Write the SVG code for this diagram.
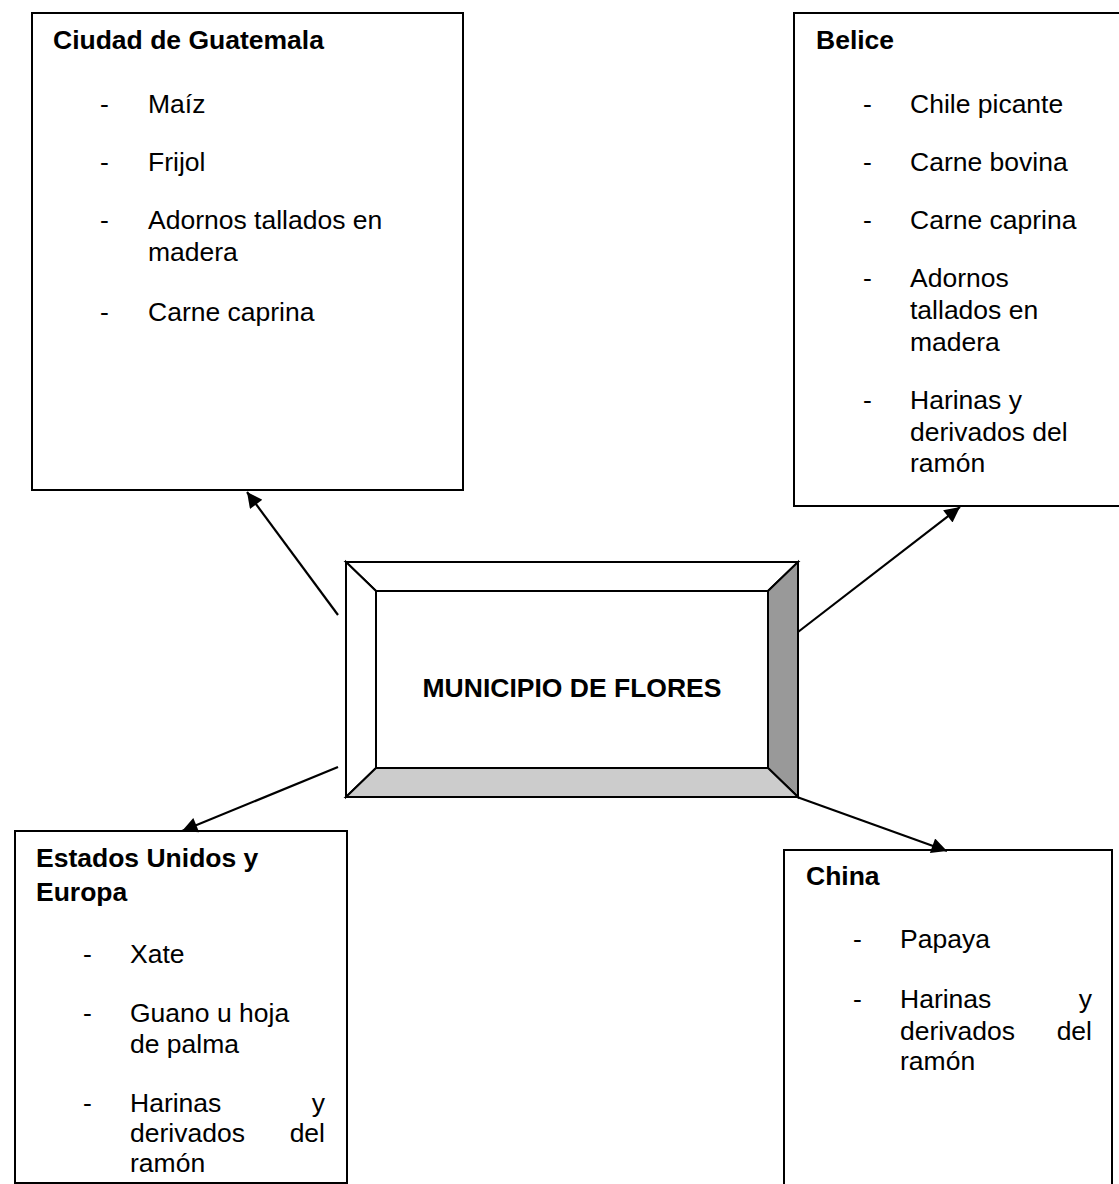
<svg xmlns="http://www.w3.org/2000/svg" width="1119" height="1184" viewBox="0 0 1119 1184">
<style>
.box{fill:#fff;stroke:#000;stroke-width:2}
.t{font-family:"Liberation Sans",Arial,sans-serif;font-size:26.5px;fill:#000}
.b{font-weight:bold}
.conn{stroke:#000;stroke-width:2.2;fill:none;marker-end:url(#ah)}
.bev{stroke:#000;stroke-width:2;stroke-linejoin:miter}
</style>
<defs>
<marker id="ah" viewBox="0 0 10 10" refX="10" refY="5" markerWidth="8" markerHeight="7" markerUnits="strokeWidth" orient="auto">
<path d="M0,0 L10,5 L0,10 z" fill="#000"/>
</marker>
</defs>
<rect width="1119" height="1184" fill="#fff"/>

<g id="guatemala">
<rect class="box" x="32" y="13" width="431" height="477"/>
<text class="t b" x="53" y="49">Ciudad de Guatemala</text>
<text class="t" x="100" y="113">-</text><text class="t" x="148" y="113">Maíz</text>
<text class="t" x="100" y="171">-</text><text class="t" x="148" y="171">Frijol</text>
<text class="t" x="100" y="229">-</text><text class="t" x="148" y="229">Adornos tallados en</text>
<text class="t" x="148" y="261">madera</text>
<text class="t" x="100" y="321">-</text><text class="t" x="148" y="321">Carne caprina</text>
</g>

<g id="belice">
<rect class="box" x="794" y="13" width="330" height="493"/>
<text class="t b" x="816" y="49">Belice</text>
<text class="t" x="863" y="113">-</text><text class="t" x="910" y="113">Chile picante</text>
<text class="t" x="863" y="171">-</text><text class="t" x="910" y="171">Carne bovina</text>
<text class="t" x="863" y="229">-</text><text class="t" x="910" y="229">Carne caprina</text>
<text class="t" x="863" y="287">-</text><text class="t" x="910" y="287">Adornos</text>
<text class="t" x="910" y="319">tallados en</text>
<text class="t" x="910" y="351">madera</text>
<text class="t" x="863" y="409">-</text><text class="t" x="910" y="409">Harinas y</text>
<text class="t" x="910" y="441">derivados del</text>
<text class="t" x="910" y="472">ramón</text>
</g>

<g id="eeuu">
<rect class="box" x="15" y="831" width="332" height="352"/>
<text class="t b" x="36" y="867">Estados Unidos y</text>
<text class="t b" x="36" y="901">Europa</text>
<text class="t" x="83" y="963">-</text><text class="t" x="130" y="963">Xate</text>
<text class="t" x="83" y="1022">-</text><text class="t" x="130" y="1022">Guano u hoja</text>
<text class="t" x="130" y="1053">de palma</text>
<text class="t" x="83" y="1112">-</text><text class="t" x="130" y="1112">Harinas</text><text class="t" x="325" y="1112" text-anchor="end">y</text>
<text class="t" x="130" y="1142">derivados</text><text class="t" x="325" y="1142" text-anchor="end">del</text>
<text class="t" x="130" y="1172">ramón</text>
</g>

<g id="china">
<rect class="box" x="784" y="850" width="328" height="350"/>
<text class="t b" x="806" y="885">China</text>
<text class="t" x="853" y="948">-</text><text class="t" x="900" y="948">Papaya</text>
<text class="t" x="853" y="1008">-</text><text class="t" x="900" y="1008">Harinas</text><text class="t" x="1092" y="1008" text-anchor="end">y</text>
<text class="t" x="900" y="1040">derivados</text><text class="t" x="1092" y="1040" text-anchor="end">del</text>
<text class="t" x="900" y="1070">ramón</text>
</g>

<g id="municipio">
<polygon class="bev" fill="#fff" points="346,562 798,562 768,591 376,591"/>
<polygon class="bev" fill="#fff" points="346,562 376,591 376,768 346,797"/>
<polygon class="bev" fill="#999" points="798,562 798,797 768,768 768,591"/>
<polygon class="bev" fill="#ccc" points="346,797 376,768 768,768 798,797"/>
<rect x="376" y="591" width="392" height="177" fill="#fff" stroke="#000" stroke-width="2"/>
<text class="t b" x="572" y="697" text-anchor="middle">MUNICIPIO DE FLORES</text>
</g>

<g id="connectors">
<line class="conn" x1="338" y1="615" x2="247" y2="492"/>
<line class="conn" x1="798" y1="632" x2="960" y2="507"/>
<line class="conn" x1="338" y1="767" x2="182" y2="831"/>
<line class="conn" x1="797" y1="797" x2="947" y2="851"/>
</g>
</svg>
